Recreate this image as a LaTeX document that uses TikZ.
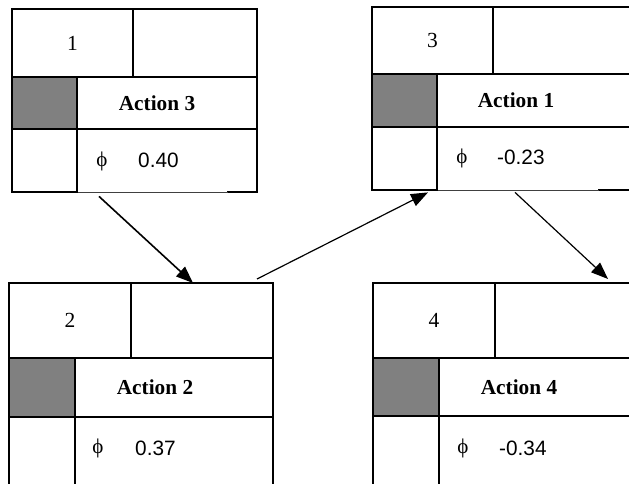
\documentclass[tikz,border=0pt]{standalone}
\usepackage{fontspec}
\setmainfont{Liberation Serif}
\newfontfamily\valfont{Liberation Sans}
\usetikzlibrary{arrows.meta}

\tikzset{
  rule/.style={line width=1.7pt, line cap=rect},
  thinrule/.style={line width=0.8pt, draw=black!75},
  shade/.style={fill=black!50},
  frame/.style={draw=none, inner sep=0pt, anchor=north west},
  numtext/.style={inner sep=0pt, font=\fontsize{21.5}{24}\selectfont},
  acttext/.style={inner sep=0pt, font=\fontsize{21.3}{24}\selectfont\bfseries},
  phitext/.style={inner sep=0pt, font=\fontsize{21}{24}\selectfont},
  valtext/.style={inner sep=0pt, anchor=west, font=\valfont\fontsize{20.8}{24}\selectfont},
  link/.style={line width=1.2pt, -{Triangle[length=17pt,width=13pt]}},
}

\begin{document}
\begin{tikzpicture}[x=1pt,y=-1pt]
\useasboundingbox (0,0) rectangle (629,484);
\clip (0,0) rectangle (629,484);
\fill[white] (0,0) rectangle (629,484);

% ---- state 1 ----
\node[frame, minimum width=245pt, minimum height=183pt] (b1) at (12,9) {};
\begin{scope}[shift={(12,9)}]
  \fill[shade] (0,68) rectangle (65,120);
  \draw[rule] (0,183) -- (0,0) -- (245,0) -- (245,183) -- (216,183);
  \draw[rule] (0,183) -- (65,183);
  \draw[thinrule] (65,183) -- (216,183);
  \draw[rule] (0,68) -- (245,68) (0,120) -- (245,120);
  \draw[rule] (121,0) -- (121,68) (65,68) -- (65,183);
  \node[numtext] (n1) at (60.5,34) {1};
  \node[acttext] (a1) at (145,94) {Action 3};
  \node[phitext] (p1) at (90,152) {ϕ};
  \node[valtext] (v1) at (126,151.5) {0.40};
\end{scope}

% ---- state 3 ----
\node[frame, minimum width=245pt, minimum height=183pt] (b3) at (372,7) {};
\begin{scope}[shift={(372,7)}]
  \fill[shade] (0,67) rectangle (65,120);
  \draw[rule] (0,183) -- (0,0) -- (280,0);
  \draw[rule] (0,183) -- (65,183) (227,183) -- (280,183);
  \draw[thinrule] (65,183) -- (227,183);
  \draw[rule] (0,67) -- (280,67) (0,120) -- (280,120);
  \draw[rule] (121,0) -- (121,67) (65,67) -- (65,183);
  \node[numtext] (n3) at (60.5,33.5) {3};
  \node[acttext] (a3) at (144,93.5) {Action 1};
  \node[phitext] (p3) at (90,151) {ϕ};
  \node[valtext] (v3) at (125,150.5) {-0.23};
\end{scope}

% ---- state 2 ----
\node[frame, minimum width=264pt, minimum height=201pt] (b2) at (9,283) {};
\begin{scope}[shift={(9,283)}]
  \fill[shade] (0,75) rectangle (66,134);
  \draw[rule] (0,220) -- (0,0) -- (264,0) -- (264,220);
  \draw[rule] (0,75) -- (264,75) (0,134) -- (264,134);
  \draw[rule] (122,0) -- (122,75) (66,75) -- (66,220);
  \node[numtext] (n2) at (61,37.5) {2};
  \node[acttext] (a2) at (146,104.5) {Action 2};
  \node[phitext] (p2) at (89,165.5) {ϕ};
  \node[valtext] (v2) at (126,165) {0.37};
\end{scope}

% ---- state 4 ----
\node[frame, minimum width=245pt, minimum height=201pt] (b4) at (373,283) {};
\begin{scope}[shift={(373,283)}]
  \fill[shade] (0,75) rectangle (66,133);
  \draw[rule] (0,220) -- (0,0) -- (280,0);
  \draw[rule] (0,75) -- (280,75) (0,133) -- (280,133);
  \draw[rule] (122,0) -- (122,75) (66,75) -- (66,220);
  \node[numtext] (n4) at (61,37.5) {4};
  \node[acttext] (a4) at (146,104) {Action 4};
  \node[phitext] (p4) at (90,165.5) {ϕ};
  \node[valtext] (v4) at (126,165) {-0.34};
\end{scope}

% ---- transitions ----
\draw[link, line width=1.6pt] ([xshift=87pt,yshift=-4pt]b1.south west) -- ([xshift=184pt]b2.north west);
\draw[link] ([xshift=248pt,yshift=4pt]b2.north west) -- ([xshift=56pt,yshift=-2pt]b3.south west);
\draw[link] ([xshift=143pt,yshift=-2pt]b3.south west) -- ([xshift=235pt,yshift=4pt]b4.north west);
\end{tikzpicture}
\end{document}
